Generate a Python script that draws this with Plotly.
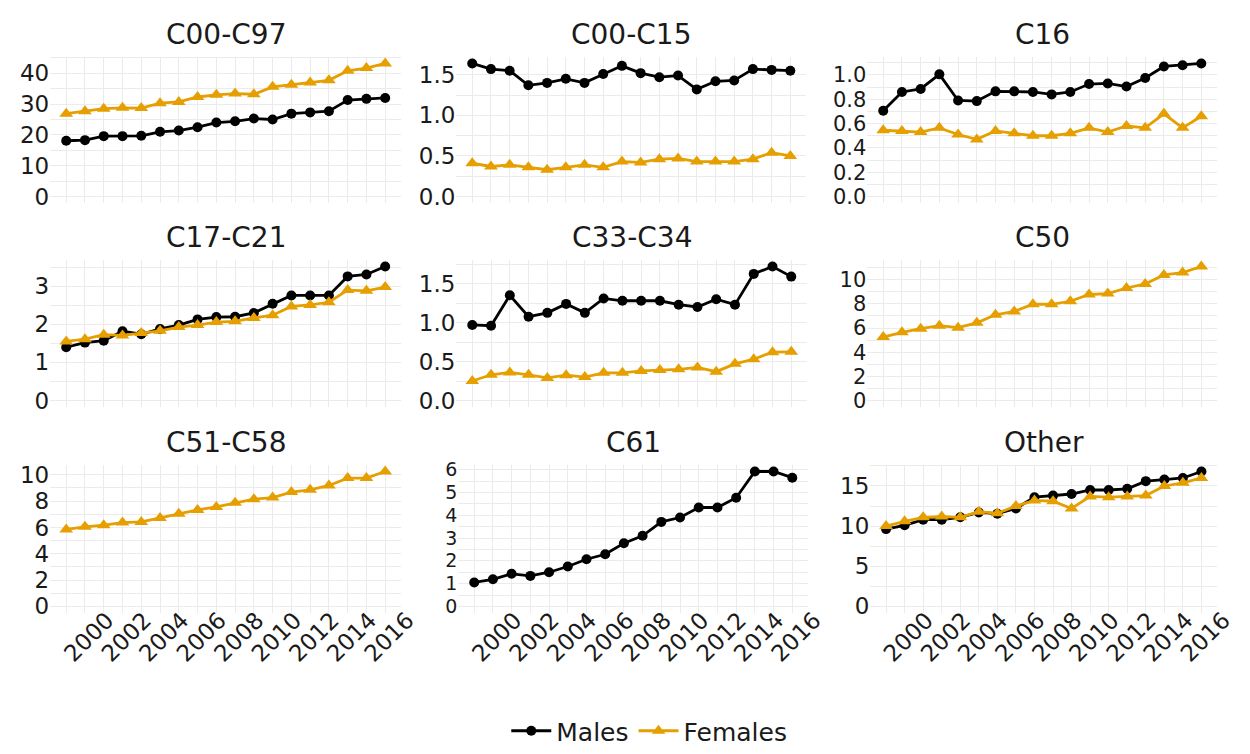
import plotly.graph_objects as go
from plotly.subplots import make_subplots

# Years covered by every panel
years = list(range(1999, 2017))

# Panel titles, in reading order (3 x 3 grid)
panels = ["C00-C97", "C00-C15", "C16",
          "C17-C21", "C33-C34", "C50",
          "C51-C58", "C61", "Other"]

# Rates per panel (None = series not shown in that panel)
males_c00_c97 = [18.1, 18.3, 19.6, 19.6, 19.7, 21.0, 21.4, 22.5, 24.0, 24.4,
                 25.3, 25.0, 26.9, 27.3, 27.7, 31.3, 31.7, 32.0]
females_c00_c97 = [26.9, 27.7, 28.5, 28.8, 28.7, 30.3, 30.7, 32.3, 33.0, 33.4,
                   33.2, 35.6, 36.3, 37.0, 37.7, 40.8, 41.7, 43.2]

males_c00_c15 = [1.64, 1.57, 1.55, 1.37, 1.40, 1.45, 1.40, 1.51, 1.61, 1.52,
                 1.47, 1.49, 1.32, 1.42, 1.43, 1.57, 1.56, 1.55]
females_c00_c15 = [0.41, 0.37, 0.39, 0.36, 0.33, 0.36, 0.39, 0.36, 0.43, 0.42,
                   0.46, 0.47, 0.43, 0.43, 0.43, 0.46, 0.54, 0.50]

males_c16 = [0.705, 0.86, 0.885, 1.005, 0.79, 0.785, 0.865, 0.865, 0.86, 0.84,
             0.86, 0.925, 0.93, 0.905, 0.975, 1.07, 1.08, 1.095]
females_c16 = [0.545, 0.54, 0.53, 0.565, 0.51, 0.47, 0.54, 0.52, 0.50, 0.50,
               0.52, 0.565, 0.53, 0.58, 0.565, 0.68, 0.565, 0.66]

males_c17_c21 = [1.40, 1.52, 1.57, 1.82, 1.74, 1.88, 1.98, 2.13, 2.19, 2.20,
                 2.30, 2.54, 2.76, 2.76, 2.76, 3.26, 3.31, 3.52]
females_c17_c21 = [1.55, 1.61, 1.73, 1.71, 1.77, 1.83, 1.93, 1.98, 2.06, 2.08,
                   2.17, 2.24, 2.47, 2.51, 2.58, 2.90, 2.88, 2.98]

males_c33_c34 = [0.97, 0.96, 1.35, 1.075, 1.125, 1.24, 1.125, 1.31, 1.28, 1.28,
                 1.28, 1.23, 1.20, 1.30, 1.23, 1.625, 1.72, 1.59]
females_c33_c34 = [0.25, 0.33, 0.36, 0.33, 0.29, 0.325, 0.30, 0.355, 0.355, 0.38,
                   0.39, 0.40, 0.425, 0.37, 0.47, 0.53, 0.62, 0.625]

males_c50 = None
females_c50 = [5.25, 5.65, 5.95, 6.2, 6.03, 6.43, 7.1, 7.38, 7.97, 7.97,
               8.22, 8.78, 8.86, 9.32, 9.65, 10.4, 10.6, 11.1]

males_c51_c58 = None
females_c51_c58 = [5.85, 6.05, 6.17, 6.37, 6.42, 6.72, 7.04, 7.33, 7.56, 7.88,
                   8.15, 8.27, 8.69, 8.86, 9.19, 9.75, 9.75, 10.25]

males_c61 = [1.05, 1.19, 1.43, 1.34, 1.50, 1.75, 2.07, 2.29, 2.77, 3.10,
             3.71, 3.90, 4.34, 4.34, 4.77, 5.92, 5.92, 5.65]
females_c61 = None

males_other = [9.63, 10.1, 10.8, 10.8, 11.1, 11.7, 11.55, 12.2, 13.6, 13.8,
               14.0, 14.5, 14.5, 14.65, 15.6, 15.8, 16.0, 16.8]
females_other = [10.0, 10.6, 11.1, 11.2, 11.1, 11.8, 11.6, 12.5, 13.2, 13.1,
                 12.2, 13.7, 13.6, 13.7, 13.8, 15.0, 15.4, 16.0]

males = [males_c00_c97, males_c00_c15, males_c16,
         males_c17_c21, males_c33_c34, males_c50,
         males_c51_c58, males_c61, males_other]
females = [females_c00_c97, females_c00_c15, females_c16,
           females_c17_c21, females_c33_c34, females_c50,
           females_c51_c58, females_c61, females_other]

# Y-axis tick spacing and label format per panel
y_dtick = [10, 0.5, 0.2, 1, 0.5, 2, 2, 1, 5]
y_fmt = ["d", ".1f", ".1f", "d", ".1f", "d", "d", "d", "d"]
# Tick label size per panel (the densely ticked C61 axis gets a smaller one)
y_font = [23, 23, 21, 23, 23, 21, 23, 19, 23]

MALE_COL = "#000000"
FEMALE_COL = "#E69F00"
TEXT_COL = "#1A1A1A"
GRID_COL = "#EBEBEB"
FONT = "DejaVu Sans, Liberation Sans, Arial, sans-serif"

W, H = 1250, 754
# Panel rectangles in pixels: (left, right) per column, (top, bottom) per row
col_px = [[(51, 407), (463, 818), (880, 1235)],
          [(51, 407), (463, 819), (880, 1235)],
          [(51, 407), (465, 820), (883, 1235)]]
row_px = [(52, 202), (260, 411), (470, 622)]

fig = make_subplots(rows=3, cols=3)

for i, name in enumerate(panels):
    r, c = divmod(i, 3)
    show_leg = (i == 0)
    if males[i] is not None:
        fig.add_trace(go.Scatter(
            x=years, y=males[i], mode="lines+markers", name="Males",
            legendgroup="m", showlegend=show_leg,
            line=dict(color=MALE_COL, width=2.8),
            marker=dict(symbol="circle", size=10, color=MALE_COL)),
            row=r + 1, col=c + 1)
    if females[i] is not None:
        fig.add_trace(go.Scatter(
            x=years, y=females[i], mode="lines+markers", name="Females",
            legendgroup="f", showlegend=show_leg,
            line=dict(color=FEMALE_COL, width=2.8),
            marker=dict(symbol="triangle-up", size=12, color=FEMALE_COL)),
            row=r + 1, col=c + 1)

    vals = [v for s in (males[i], females[i]) if s is not None for v in s]
    ymax = max(vals)
    pad = 0.05 * ymax
    x0, x1 = col_px[r][c]
    y0, y1 = row_px[r]
    xdom = [x0 / W, x1 / W]
    ydom = [1 - y1 / H, 1 - y0 / H]

    fig.update_xaxes(
        row=r + 1, col=c + 1, domain=xdom,
        range=[1999 - 0.85, 2016 + 0.85],
        tick0=2000, dtick=2, showgrid=True, gridcolor=GRID_COL, gridwidth=1.2,
        minor=dict(tick0=1999, dtick=1, showgrid=True, gridcolor=GRID_COL, gridwidth=0.8),
        zeroline=False, showline=False, ticks="",
        showticklabels=(r == 2), tickangle=-45,
        ticklabelshift=22, ticklabelstandoff=-12,
        tickfont=dict(size=23, color=TEXT_COL, family=FONT))
    fig.update_yaxes(
        row=r + 1, col=c + 1, domain=ydom,
        range=[-pad, ymax + pad],
        tick0=0, dtick=y_dtick[i], tickformat=y_fmt[i],
        showgrid=True, gridcolor=GRID_COL, gridwidth=1.2,
        minor=dict(tick0=0, dtick=y_dtick[i] / 2, showgrid=True, gridcolor=GRID_COL, gridwidth=0.8),
        zeroline=False, showline=False, ticks="",
        tickfont=dict(size=y_font[i], color=TEXT_COL, family=FONT))

    fig.add_annotation(
        text=name, xref="paper", yref="paper",
        x=(x0 + x1) / 2 / W, y=1 - (y0 - 23) / H,
        xanchor="center", yanchor="middle", showarrow=False,
        font=dict(size=28, color=TEXT_COL, family=FONT))

fig.update_layout(
    width=W, height=H,
    margin=dict(l=0, r=0, t=0, b=0),
    paper_bgcolor="white", plot_bgcolor="white",
    font=dict(family=FONT, color=TEXT_COL),
    legend=dict(orientation="h", x=0.527, xanchor="center", y=1 - 743 / H, yanchor="middle",
                font=dict(size=25, color=TEXT_COL, family=FONT),
                itemwidth=40, bgcolor="rgba(0,0,0,0)"),
)

fig.write_html("out.html")
